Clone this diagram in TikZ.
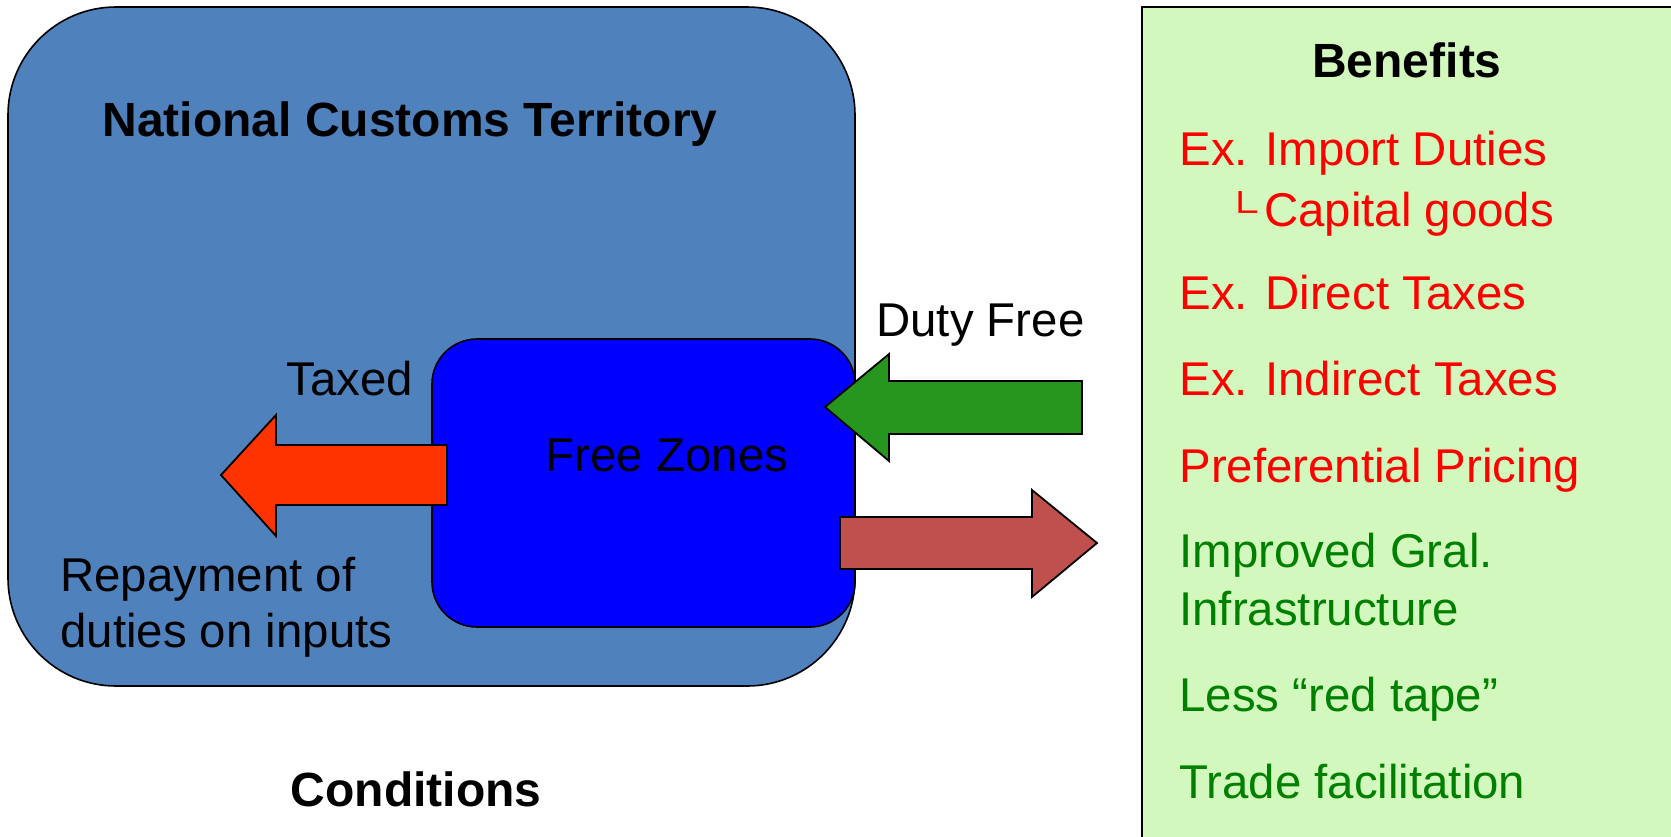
\documentclass[tikz,border=0pt]{standalone}
\usepackage{fontspec}
\setmainfont{Liberation Sans}
\usetikzlibrary{shapes,arrows,positioning,calc}

\definecolor{territoryblue}{HTML}{4F81BD}
\definecolor{zoneblue}{HTML}{0000FF}
\definecolor{taxedred}{HTML}{FF3300}
\definecolor{dutygreen}{HTML}{26961E}
\definecolor{exportbrown}{HTML}{C0504D}
\definecolor{benefitfill}{HTML}{D2F8BE}
\definecolor{benefitred}{HTML}{FF0000}
\definecolor{benefitgreen}{HTML}{008000}

\begin{document}
\begin{tikzpicture}[x=0.5pt, y=-0.5pt,
  lbl/.style={inner sep=0pt, font=\fontsize{23.7}{29}\selectfont},
  head/.style={inner sep=0pt, font=\fontsize{24}{29}\selectfont\bfseries, anchor=base},
  item/.style={lbl, anchor=base west},
  area/.style={draw=black, line width=0.8pt, inner sep=0pt},
  blockarrow/.style={draw=black, line width=0.9pt, line join=miter},
]
\useasboundingbox (0,0) rectangle (1671,836);
\clip (0,0) rectangle (1671,836);

% areas
\node[area, fill=territoryblue, rounded corners=54pt,
  minimum width=423.5pt, minimum height=339.5pt] (territory) at (431.5,346.5) {};
\node[area, fill=zoneblue, rounded corners=22.5pt,
  minimum width=211.5pt, minimum height=144pt] (zone) at (643.5,483) {};
\node[area, fill=benefitfill, line width=1pt,
  minimum width=279pt, minimum height=432pt] (benefitbox) at (1421,438.5) {};

% block arrows
\draw[blockarrow, fill=taxedred] (447,445) -- (276,445) -- (276,415) -- (221,475)
  -- (276,536) -- (276,505) -- (447,505) -- cycle;
\draw[blockarrow, fill=dutygreen] (1082,381) -- (889,381) -- (889,354) -- (825,407)
  -- (889,461) -- (889,434) -- (1082,434) -- cycle;
\draw[blockarrow, fill=exportbrown] (840,517) -- (1032,517) -- (1032,490) -- (1097,543)
  -- (1032,597) -- (1032,569) -- (840,569) -- cycle;

% left side labels
\node[head] (nct) at (410,136) {National Customs Territory};
\node[lbl, anchor=base] (fz) at (667,471) {Free Zones};
\node[item] (taxed) at (286,395) {Taxed};
\node[item] (repay) at (60,591) {Repayment of};
\node[item] (repaytwo) at (60,647) {duties on inputs};
\node[item] (dutyfree) at (876,336) {Duty Free};
\node[head] (cond) at (416,806) {Conditions};

% benefits list
\node[head] (benefits) at (1407,77) {Benefits};
\node[item, text=benefitred] (importduty) at (1179,165) {Ex. Import Duties};
\node[item, text=benefitred] (capital) at (1223,226.5)
  {{\fontsize{17}{17}\selectfont\raisebox{2pt}{\scalebox{1.4}[1]{└}}}\hspace{3.5pt}Capital goods};
\node[item, text=benefitred] (direct) at (1179,309) {Ex. Direct Taxes};
\node[item, text=benefitred] (indirect) at (1179,395.5) {Ex. Indirect Taxes};
\node[item, text=benefitred] (pricing) at (1179,482.5) {Preferential Pricing};
\node[item, text=benefitgreen] (gral) at (1179,567.5) {Improved Gral.};
\node[item, text=benefitgreen] (infra) at (1179,625) {Infrastructure};
\node[item, text=benefitgreen] (redtape) at (1179,711.5) {Less “red tape”};
\node[item, text=benefitgreen] (trade) at (1179,798) {Trade facilitation};

\end{tikzpicture}
\end{document}
